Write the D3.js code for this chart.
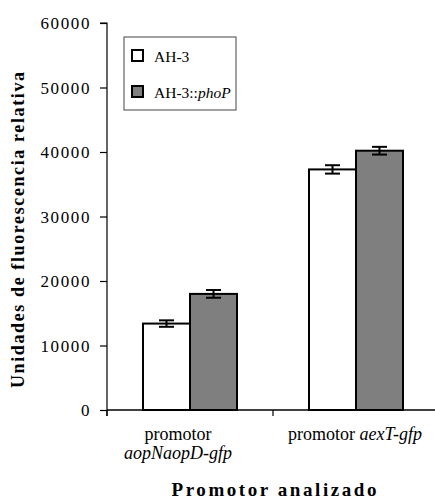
<!DOCTYPE html>
<html>
<head>
<meta charset="utf-8">
<script src="https://cdn.jsdelivr.net/npm/d3@7/dist/d3.min.js"></script>
<style>
  html, body { margin: 0; padding: 0; background: #fff; }
  svg text { font-family: "Liberation Serif", "Times New Roman", Times, serif; fill: #000; }
</style>
</head>
<body>
<svg id="chart" width="435" height="500"></svg>
<script>
// Promoter fluorescence per strain
const categories = ["aopNaopD", "aexT"];
const series = ["AH-3", "AH-3::phoP"];
const valuesAH3 = [13400, 37300];
const valuesPhoP = [18000, 40200];
const errorsAH3 = [500, 650];
const errorsPhoP = [600, 600];
const yTicks = [0, 10000, 20000, 30000, 40000, 50000, 60000];
const colors = ["#ffffff", "#7f7f7f"];
const serif = "'Liberation Serif', 'Times New Roman', Times, serif";

const svg = d3.select("#chart");
const x0 = d3.scaleBand().domain(categories).range([107, 439]).paddingInner(0).paddingOuter(0);
const x1 = d3.scaleBand().domain(series).range([0, x0.bandwidth()]).paddingInner(0).paddingOuter(0.766);
const y = d3.scaleLinear().domain([0, 60000]).range([410, 23]);

const rows = categories.map((c, i) => ({
  cat: c,
  bars: [
    { s: series[0], v: valuesAH3[i], e: errorsAH3[i], c: colors[0] },
    { s: series[1], v: valuesPhoP[i], e: errorsPhoP[i], c: colors[1] }
  ]
}));

// Y axis
const yAxis = d3.axisLeft(y).tickValues(yTicks).tickSize(7).tickPadding(9).tickFormat(d3.format("d"));
const gy = svg.append("g").attr("transform", "translate(107,0)").call(yAxis)
  .attr("font-family", serif).attr("font-size", 17);
gy.select(".domain").attr("stroke", "#000").attr("stroke-width", 1.2).attr("d", "M-7,23H0V416");
gy.selectAll(".tick line").attr("stroke", "#000").attr("stroke-width", 1.2);
gy.selectAll(".tick text").attr("fill", "#000").style("font-family", serif).style("font-size", "17px")
  .style("letter-spacing", "1.6px").attr("dy", "0.35em");

// Bars
const groups = svg.selectAll("g.grp").data(rows).join("g")
  .attr("class", "grp")
  .attr("transform", d => `translate(${x0(d.cat)},0)`);

groups.selectAll("rect").data(d => d.bars).join("rect")
  .attr("x", d => x1(d.s))
  .attr("width", x1.bandwidth())
  .attr("y", d => y(d.v))
  .attr("height", d => y(0) - y(d.v))
  .attr("fill", d => d.c)
  .attr("stroke", "#000")
  .attr("stroke-width", 2);

// Error bars
const eb = groups.selectAll("g.err").data(d => d.bars).join("g").attr("class", "err")
  .attr("stroke", "#000").attr("stroke-width", 2);
eb.append("line")
  .attr("x1", d => x1(d.s) + x1.bandwidth() / 2)
  .attr("x2", d => x1(d.s) + x1.bandwidth() / 2)
  .attr("y1", d => y(d.v + d.e)).attr("y2", d => y(d.v - d.e));
eb.append("line")
  .attr("x1", d => x1(d.s) + x1.bandwidth() / 2 - 7.5)
  .attr("x2", d => x1(d.s) + x1.bandwidth() / 2 + 7.5)
  .attr("y1", d => y(d.v + d.e)).attr("y2", d => y(d.v + d.e));
eb.append("line")
  .attr("x1", d => x1(d.s) + x1.bandwidth() / 2 - 7.5)
  .attr("x2", d => x1(d.s) + x1.bandwidth() / 2 + 7.5)
  .attr("y1", d => y(d.v - d.e)).attr("y2", d => y(d.v - d.e));

// X axis with ticks at category boundaries
svg.append("line").attr("x1", 107).attr("x2", 439).attr("y1", y(0)).attr("y2", y(0))
  .attr("stroke", "#000").attr("stroke-width", 1.5);
const bounds = categories.map(c => x0(c)).concat([x0.range()[1]]);
svg.selectAll("line.xt").data(bounds).join("line").attr("class", "xt")
  .attr("x1", d => d).attr("x2", d => d)
  .attr("y1", y(0)).attr("y2", y(0) + 6)
  .attr("stroke", "#000").attr("stroke-width", 1.2);

// Category labels
const cx0 = x0(categories[0]) + x0.bandwidth() / 2 - 12;
const cx1 = x0(categories[1]) + x0.bandwidth() / 2 - 1;
svg.append("text").attr("text-anchor", "middle").style("font-size", "18px")
  .attr("x", cx0).attr("y", 440).text("promotor");
svg.append("text").attr("text-anchor", "middle").style("font-size", "18px")
  .attr("x", cx0).attr("y", 459).style("font-style", "italic").text("aopNaopD-gfp");
const lab2 = svg.append("text").attr("text-anchor", "middle").style("font-size", "18px")
  .attr("x", cx1).attr("y", 440);
lab2.append("tspan").text("promotor ");
lab2.append("tspan").style("font-style", "italic").text("aexT-gfp");

// Axis titles
svg.append("text").attr("text-anchor", "middle").style("font-size", "19px").style("font-weight", "bold")
  .attr("x", 274).attr("y", 496).attr("textLength", 205).attr("lengthAdjust", "spacing")
  .text("Promotor analizado");
svg.append("text").attr("text-anchor", "middle").style("font-size", "18px").style("font-weight", "bold")
  .attr("transform", "translate(24,230) rotate(-90)")
  .attr("textLength", 316).attr("lengthAdjust", "spacing")
  .text("Unidades de fluorescencia relativa");

// Legend
const lg = svg.append("g");
lg.append("rect").attr("x", 124).attr("y", 37).attr("width", 112).attr("height", 73)
  .attr("fill", "#fff").attr("stroke", "#444").attr("stroke-width", 1);
series.forEach((s, i) => {
  const yy = 50 + i * 36;
  lg.append("rect").attr("x", 132).attr("y", yy).attr("width", 11).attr("height", 11)
    .attr("fill", colors[i]).attr("stroke", "#000").attr("stroke-width", 2);
  const t = lg.append("text").attr("x", 154).attr("y", yy + 12).style("font-size", "15.5px");
  if (s.includes("::")) {
    const parts = s.split("::");
    t.append("tspan").text(parts[0] + "::");
    t.append("tspan").style("font-style", "italic").text(parts[1]);
  } else {
    t.text(s);
  }
});
</script>
</body>
</html>
